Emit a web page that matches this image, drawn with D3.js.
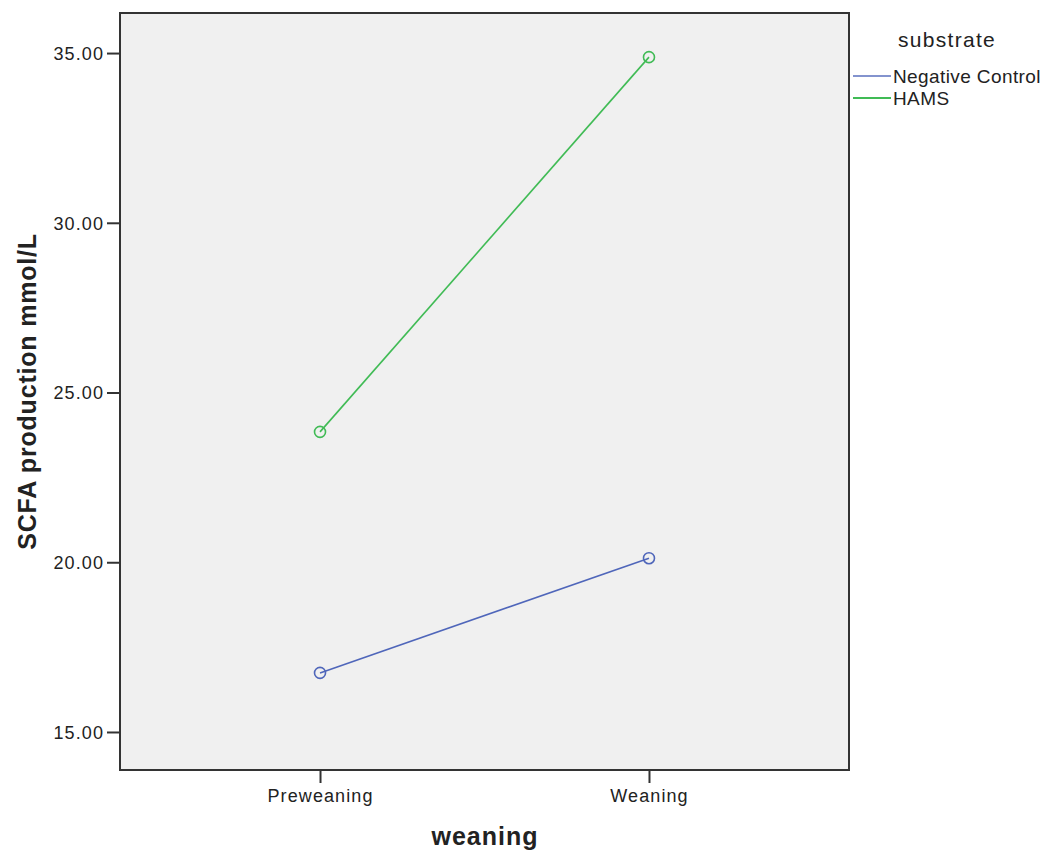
<!DOCTYPE html>
<html><head><meta charset="utf-8">
<script src="https://cdn.jsdelivr.net/npm/d3@7"></script>
<style>body{margin:0;background:#fff;font-family:"Liberation Sans",Arial,sans-serif;}</style>
</head><body><svg id="c" width="1042" height="852"></svg>
<script>
const categories = ["Preweaning", "Weaning"];
const seriesNames = ["Negative Control", "HAMS"];
const negativeControl = [16.74, 20.12];
const hams = [23.84, 34.88];
const yTicks = [15, 20, 25, 30, 35];
const colors = ["#4f66ba", "#40bb55"];

const svg = d3.select("#c");
const L = 120, R = 849, T = 13, B = 770;
svg.append("rect").attr("x", L).attr("y", T).attr("width", R - L).attr("height", B - T).attr("fill", "#f0f0f0");

const x = d3.scalePoint().domain(categories).range([L, R]).padding(0.608);
const y = d3.scaleLinear().domain([13.88, 36.18]).range([B, T]);

const yAxis = svg.append("g").attr("transform", `translate(${L},0)`)
  .call(d3.axisLeft(y).tickValues(yTicks).tickFormat(d3.format(".2f")).tickSize(13).tickSizeOuter(0));
const xAxis = svg.append("g").attr("transform", `translate(0,${B})`)
  .call(d3.axisBottom(x).tickSize(13).tickSizeOuter(0));
[yAxis, xAxis].forEach(g => {
  g.select(".domain").remove();
  g.selectAll("line").attr("stroke", "#333").attr("stroke-width", 2);
  g.selectAll("text").attr("fill", "#222").style("font-size", "18px").style("letter-spacing", "1.1px")
    .style("font-family", '"Liberation Sans",Arial,sans-serif');
});
yAxis.selectAll("text").attr("x", -16).attr("dy", "0.35em");
xAxis.selectAll("text").attr("y", 32).attr("dy", 0);

const series = [negativeControl, hams];
const line = d3.line().x((d, i) => x(categories[i])).y(d => y(d));
series.forEach((vals, s) => {
  svg.append("path").datum(vals).attr("d", line).attr("fill", "none")
    .attr("stroke", colors[s]).attr("stroke-width", 1.6);
  svg.selectAll(null).data(vals).enter().append("circle")
    .attr("cx", (d, i) => x(categories[i])).attr("cy", d => y(d)).attr("r", 5.5)
    .attr("fill", "none").attr("stroke", colors[s]).attr("stroke-width", 1.6);
});

svg.append("rect").attr("x", L).attr("y", T).attr("width", R - L).attr("height", B - T)
  .attr("fill", "none").attr("stroke", "#333").attr("stroke-width", 2);

svg.append("text").attr("transform", `translate(36,${(T + B) / 2}) rotate(-90)`)
  .attr("text-anchor", "middle").style("font-size", "25px").style("font-weight", "bold")
  .style("letter-spacing", "0.8px").attr("fill", "#222")
  .text("SCFA production mmol/L");
svg.append("text").attr("x", 485).attr("y", 845).attr("text-anchor", "middle")
  .style("font-size", "25px").style("font-weight", "bold").style("letter-spacing", "1px")
  .attr("fill", "#222").text("weaning");

svg.append("text").attr("x", 898).attr("y", 47).style("font-size", "21px").style("letter-spacing", "1.3px")
  .attr("fill", "#222").text("substrate");
seriesNames.forEach((n, i) => {
  const yy = 76 + i * 22;
  svg.append("line").attr("x1", 853).attr("x2", 891).attr("y1", yy).attr("y2", yy)
    .attr("stroke", colors[i]).attr("stroke-width", 2).attr("opacity", i === 0 ? 0.7 : 1);
  svg.append("text").attr("x", 893).attr("y", yy + 7).style("font-size", "19px").style("letter-spacing", "0.4px")
    .attr("fill", "#222").text(n);
});
</script></body></html>
